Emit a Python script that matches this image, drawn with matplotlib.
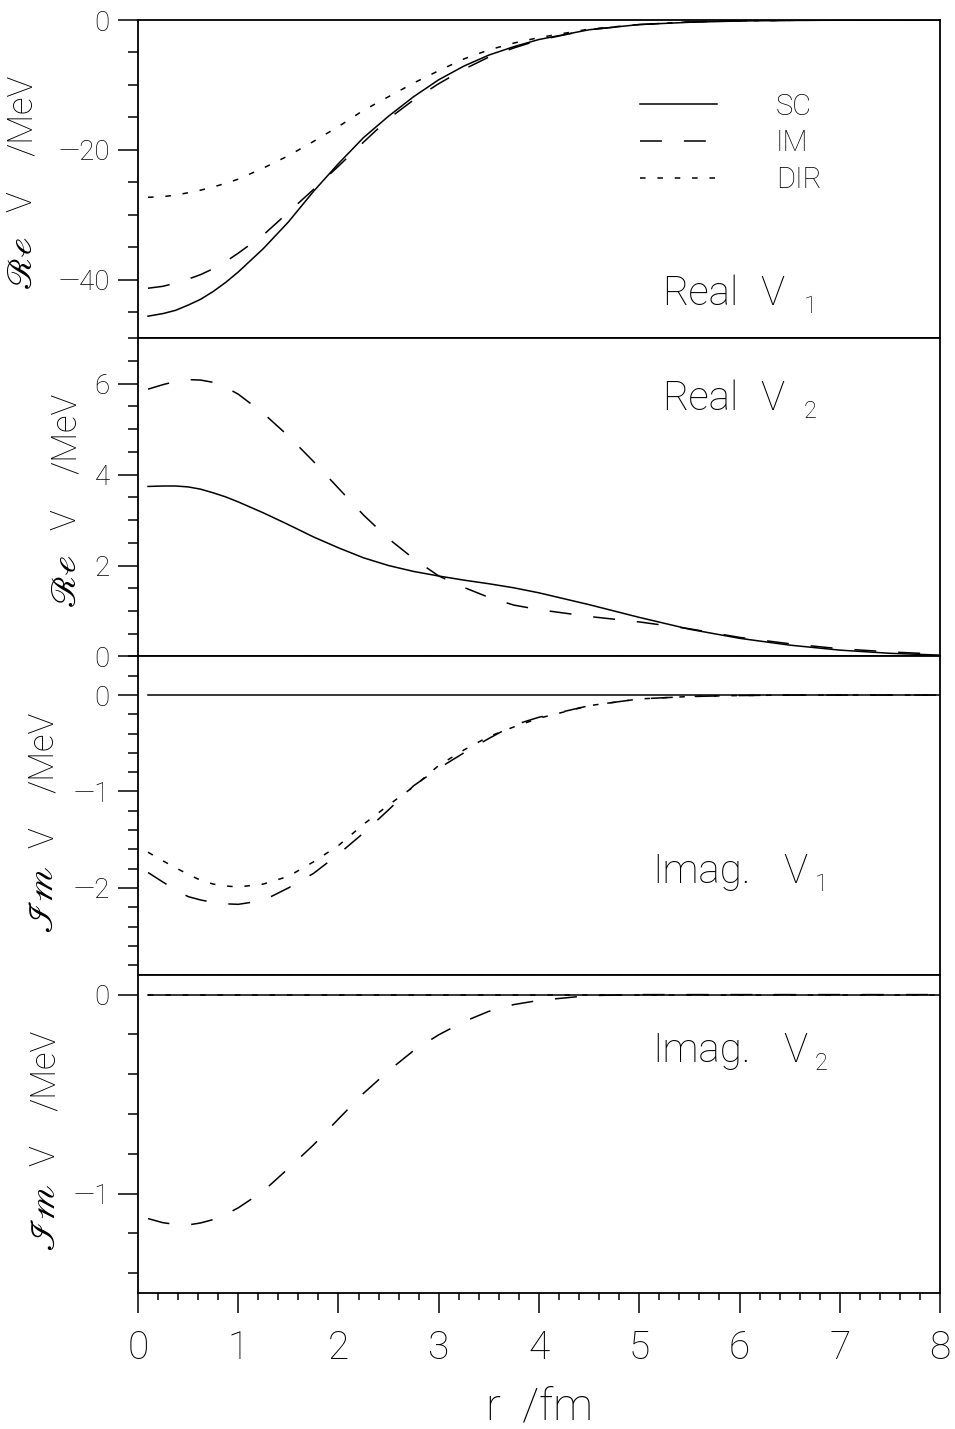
import numpy as np
import matplotlib.pyplot as plt
from matplotlib.ticker import MultipleLocator, FuncFormatter

plt.rcParams['font.family'] = ['Roboto', 'DejaVu Sans']
plt.rcParams['font.weight'] = 'light'
plt.rcParams['axes.labelweight'] = 'light'
plt.rcParams['lines.scale_dashes'] = False

# radius / fm
r = [0.1, 0.25, 0.375, 0.5, 0.625, 0.75, 0.875, 1.0, 1.25, 1.5, 1.75, 2.0, 2.25, 2.5, 2.75, 3.0,
     3.25, 3.5, 3.75, 4.0, 4.5, 5.0, 5.5, 6.0, 6.5, 7.0, 7.5, 8.0]

# Real V1 / MeV
re_v1_sc = [-45.6, -45.2, -44.7, -43.9, -43.0, -41.8, -40.4, -38.8, -35.2, -31.1, -26.4, -22.1,
            -18.1, -14.8, -11.8, -9.2, -7.1, -5.4, -4.1, -3.0, -1.5, -0.7, -0.35, -0.15, -0.07,
            -0.03, -0.01, 0.0]
re_v1_im = [-41.3, -41.0, -40.5, -39.9, -39.2, -38.3, -37.2, -35.9, -33.1, -29.6, -26.1, -22.5,
            -18.8, -15.2, -12.3, -9.8, -7.6, -5.7, -4.3, -3.1, -1.5, -0.7, -0.3, -0.12, -0.05,
            -0.02, -0.01, 0.0]
re_v1_dir = [-27.3, -27.2, -26.95, -26.6, -26.2, -25.7, -25.15, -24.5, -22.8, -20.9, -18.7, -16.4,
             -13.9, -11.8, -9.7, -7.8, -6.0, -4.6, -3.55, -2.7, -1.4, -0.7, -0.3, -0.12, -0.05,
             -0.02, -0.01, 0.0]

# Real V2 / MeV
re_v2_sc = [3.74, 3.75, 3.75, 3.73, 3.68, 3.60, 3.51, 3.40, 3.16, 2.90, 2.63, 2.39, 2.17, 2.00,
            1.87, 1.77, 1.68, 1.60, 1.51, 1.40, 1.14, 0.86, 0.60, 0.40, 0.25, 0.14, 0.07, 0.03]
re_v2_im = [5.88, 5.98, 6.05, 6.09, 6.08, 6.03, 5.92, 5.77, 5.35, 4.85, 4.29, 3.70, 3.11, 2.59,
            2.15, 1.77, 1.52, 1.30, 1.13, 1.03, 0.88, 0.76, 0.61, 0.42, 0.28, 0.17, 0.10, 0.05]

# Imag V1 / MeV
im_v1_im = [-1.84, -1.94, -2.02, -2.09, -2.125, -2.15, -2.165, -2.17, -2.13, -2.00, -1.85, -1.65,
            -1.43, -1.19, -0.94, -0.76, -0.60, -0.45, -0.31, -0.23, -0.11, -0.04, -0.015, -0.005,
            0.0, 0.0, 0.0, 0.0]
im_v1_dir = [-1.63, -1.72, -1.79, -1.86, -1.92, -1.96, -1.98, -1.99, -1.96, -1.88, -1.73, -1.56,
             -1.34, -1.14, -0.95, -0.73, -0.57, -0.43, -0.33, -0.24, -0.11, -0.04, -0.015, -0.005,
             0.0, 0.0, 0.0, 0.0]

# Imag V2 / MeV
im_v2_im = [-1.126, -1.147, -1.155, -1.158, -1.148, -1.131, -1.105, -1.072, -0.988, -0.874, -0.756,
            -0.625, -0.496, -0.383, -0.281, -0.202, -0.136, -0.084, -0.050, -0.029, -0.005, 0.0,
            0.0, 0.0, 0.0, 0.0, 0.0, 0.0]

# curves that vanish identically
flat = [0.0] * len(r)

panels = [
    dict(sc=re_v1_sc, im=re_v1_im, dir=re_v1_dir, ylim=(-49, 0), major=20, minor=5,
         part=r'$\mathscr{Re}$', name=('Real', '1'), labx=-0.145, namey=0.104),
    dict(sc=re_v2_sc, im=re_v2_im, dir=flat, ylim=(0, 7), major=2, minor=0.5,
         part=r'$\mathscr{Re}$', name=('Real', '2'), labx=-0.09, namey=0.774),
    dict(sc=flat, im=im_v1_im, dir=im_v1_dir, ylim=(-2.9, 0.4), major=1, minor=0.2,
         part=r'$\mathscr{Im}$', name=('Imag.', '1'), labx=-0.118, namey=0.288),
    dict(sc=flat, im=im_v2_im, dir=flat, ylim=(-1.5, 0.1), major=1, minor=0.2,
         part=r'$\mathscr{Im}$', name=('Imag.', '2'), labx=-0.116, namey=0.726),
]


def tick_fmt(v, pos):
    s = '%g' % abs(v)
    return ('\u2014' + s) if v < 0 else s


fig = plt.figure(figsize=(9.55, 14.29), dpi=100)
gs = fig.add_gridspec(4, 1, left=0.1445, right=0.9843, top=0.986, bottom=0.0952, hspace=0)

axes = []
for i, p in enumerate(panels):
    ax = fig.add_subplot(gs[i], sharex=axes[0] if axes else None)
    axes.append(ax)

    l_sc, = ax.plot(r, p['sc'], color='k', lw=1.1, label='SC')
    l_im, = ax.plot(r, p['im'], color='k', lw=1.1, dashes=(15.8, 15.8), label='IM')
    l_dir, = ax.plot(r, p['dir'], color='k', lw=1.1, dashes=(4, 8.5), label='DIR')

    ax.set_xlim(0, 8)
    ax.set_ylim(*p['ylim'])
    ax.yaxis.set_major_locator(MultipleLocator(p['major']))
    ax.yaxis.set_minor_locator(MultipleLocator(p['minor']))
    ax.yaxis.set_major_formatter(FuncFormatter(tick_fmt))
    ax.xaxis.set_major_locator(MultipleLocator(1))
    ax.xaxis.set_minor_locator(MultipleLocator(0.2))

    for s in ax.spines.values():
        s.set_linewidth(1.3)
    ax.tick_params(which='both', direction='out', left=True, right=False, top=False,
                   bottom=False, labelbottom=False, width=1.1)
    ax.tick_params(axis='y', which='major', length=14.4, labelsize=20, pad=6)
    ax.tick_params(axis='y', which='minor', length=7.2)

    # y label pieces: script part, V, /MeV
    ax.text(p['labx'], 0.236, p['part'], transform=ax.transAxes, rotation=90,
            ha='center', va='center', fontsize=25, math_fontfamily='stix')
    ax.text(p['labx'], 0.43, 'V', transform=ax.transAxes, rotation=90,
            ha='center', va='center', fontsize=25)
    ax.text(p['labx'], 0.70, '/MeV', transform=ax.transAxes, rotation=90,
            ha='center', va='center', fontsize=25)

    # panel name
    word, sub = p['name']
    x0 = 0.653 if word == 'Real' else 0.641
    ax.text(x0, p['namey'], word, transform=ax.transAxes, fontsize=29, va='baseline')
    ax.text(0.776 if word == 'Real' else 0.804, p['namey'], 'V', transform=ax.transAxes,
            fontsize=29, va='baseline')
    ax.text(0.830 if word == 'Real' else 0.844, p['namey'] - 0.024, sub, transform=ax.transAxes,
            fontsize=17, va='baseline')

    if i == 0:
        ax.legend(handles=[l_sc, l_im, l_dir], loc='upper left', bbox_to_anchor=(0.626, 0.772),
                  frameon=False, fontsize=21, handlelength=2.65, handletextpad=2.0,
                  labelspacing=0.3, borderpad=0, borderaxespad=0)

bx = axes[-1]
bx.tick_params(axis='x', which='both', bottom=True, labelbottom=True)
bx.tick_params(axis='x', which='major', length=14.4, labelsize=28, pad=12)
bx.tick_params(axis='x', which='minor', length=5)
bx.set_xlabel('r  /fm', fontsize=32, labelpad=14)

plt.savefig('out.png')
